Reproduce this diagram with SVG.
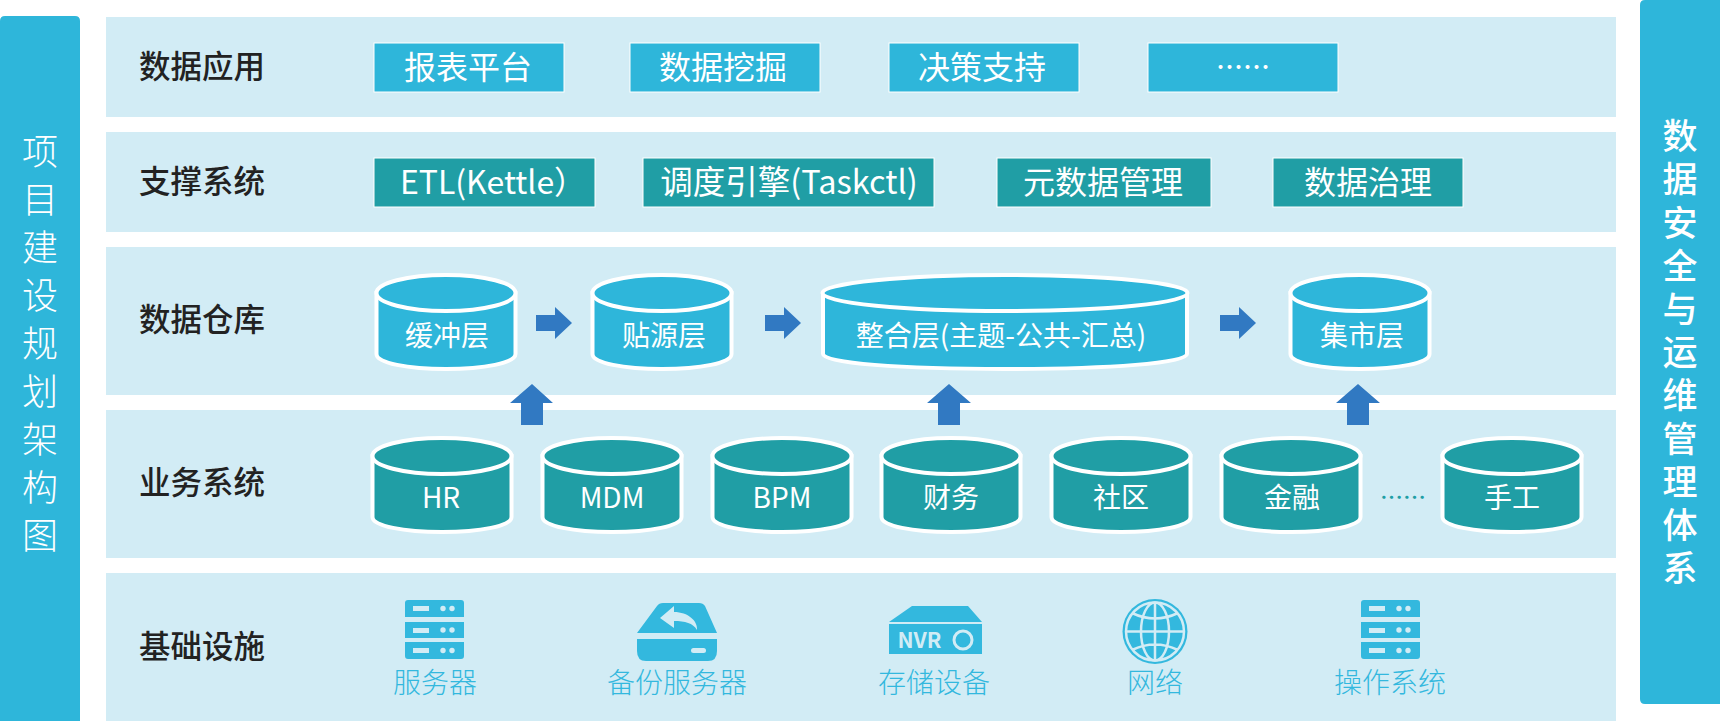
<svg xmlns="http://www.w3.org/2000/svg" width="1720" height="721" viewBox="0 0 1720 721">
<style>
text{font-family:"Noto Sans CJK SC","Noto Sans",sans-serif}
.panel{fill:#d2ecf5}
.bar{fill:#2eb6da}
.bart{fill:#fff;font-size:36px;text-anchor:middle;font-weight:300}
.barr{fill:#fff;font-size:35px;font-weight:500;writing-mode:vertical-rl;letter-spacing:8.200px}
.lbl{fill:#222;font-size:31.500px;font-weight:500;text-anchor:middle}
.b1{fill:#2eb6da;stroke:#fff;stroke-width:1}
.b2{fill:#209ea5;stroke:#fff;stroke-width:1}
.bt{fill:#fff;font-size:32px;text-anchor:middle}
.bl{fill:#fff;font-size:32.500px;text-anchor:middle}
.ct{fill:#fff;font-size:28px;text-anchor:middle}
.cb{fill:#2eb6da;stroke:#fff;stroke-width:4}
.cg{fill:#209ea5;stroke:#fff;stroke-width:4}
.arr{fill:#3179c2}
.ic{fill:#33b8de}
.il{fill:#33b8de;font-size:28px;text-anchor:middle;font-weight:300}
.ih{fill:#d2ecf5}
.gl{fill:none;stroke:#d2ecf5;stroke-width:2.500}
</style>
<defs>
<path id="arrR" d="M0 8H19V0L36 16 19 32V24H0Z"/>
<g id="srv">
<path class="ic" d="M3 0H56Q59 0 59 3V17H0V3Q0 0 3 0ZM0 22H59V38H0ZM0 42H59V56Q59 59 56 59H3Q0 59 0 56Z"/>
<g class="ih">
<rect x="8" y="6" width="16" height="5"/><circle cx="38" cy="8.500" r="2.700"/><circle cx="47" cy="8.500" r="2.700"/>
<rect x="8" y="28" width="16" height="5"/><circle cx="38" cy="30" r="2.700"/><circle cx="47" cy="30" r="2.700"/>
<rect x="8" y="48" width="16" height="5"/><circle cx="38" cy="50.500" r="2.700"/><circle cx="47" cy="50.500" r="2.700"/>
</g>
</g>
<g id="cylb"><path class="cb" d="M-69.500 0V61C-69.500 70 -38 76 0 76S69.500 70 69.500 61V0Z"/><ellipse class="cb" rx="69.500" ry="18"/></g>
<g id="cylg"><path class="cg" d="M-69.500 0V61C-69.500 70 -38 76 0 76S69.500 70 69.500 61V0Z"/><ellipse class="cg" rx="69.500" ry="18"/></g>
</defs>

<rect width="1720" height="721" fill="#fff"/>

<g id="bar-left">
<path class="bar" d="M5 16H75Q80 16 80 21V721H0V21Q0 16 5 16Z"/>
<text class="bart"><tspan x="40" y="165">项</tspan><tspan x="40" y="213">目</tspan><tspan x="40" y="261">建</tspan><tspan x="40" y="309">设</tspan><tspan x="40" y="357">规</tspan><tspan x="40" y="405">划</tspan><tspan x="40" y="453">架</tspan><tspan x="40" y="501">构</tspan><tspan x="40" y="549">图</tspan></text>
</g>
<g id="bar-right">
<path class="bar" d="M1640 5Q1640 0 1645 0H1720V704H1645Q1640 704 1640 699Z"/>
<text class="barr" x="1680" y="118.500">数据安全与运维管理体系</text>
</g>

<g id="layer-app">
<rect class="panel" x="106" y="17" width="1510" height="100"/>
<text class="lbl" x="202" y="78">数据应用</text>
<rect class="b1" x="374" y="43" width="190" height="49"/><text class="bt" x="468" y="79">报表平台</text>
<rect class="b1" x="630" y="43" width="190" height="49"/><text class="bt" x="723" y="79">数据挖掘</text>
<rect class="b1" x="889" y="43" width="190" height="49"/><text class="bt" x="982" y="79">决策支持</text>
<rect class="b1" x="1148" y="43" width="190" height="49"/><text x="1243" y="77" fill="#fff" font-size="27" text-anchor="middle" font-weight="500">……</text>
</g>
<g id="layer-support">
<rect class="panel" x="106" y="132" width="1510" height="100"/>
<text class="lbl" x="202" y="193">支撑系统</text>
<rect class="b2" x="374" y="158" width="221" height="49"/><text class="bt" x="493" y="194">ETL(Kettle）</text>
<rect class="b2" x="643" y="158" width="291" height="49"/><text class="bl" x="789" y="194">调度引擎(Taskctl)</text>
<rect class="b2" x="997" y="158" width="214" height="49"/><text class="bt" x="1103" y="194">元数据管理</text>
<rect class="b2" x="1273" y="158" width="190" height="49"/><text class="bt" x="1368" y="194">数据治理</text>
</g>
<g id="layer-dw">
<rect class="panel" x="106" y="247" width="1510" height="148"/>
<text class="lbl" x="202" y="331">数据仓库</text>
</g>
<g id="layer-biz">
<rect class="panel" x="106" y="410" width="1510" height="148"/>
<text class="lbl" x="202" y="494">业务系统</text>
<text x="1403" y="506" fill="#209ea5" font-size="23" font-weight="500" text-anchor="middle">……</text>
</g>
<g id="layer-infra">
<rect class="panel" x="106" y="573" width="1510" height="148"/>
<text class="lbl" x="202" y="658">基础设施</text>
</g>

<g id="cyl-buffer"><use href="#cylb" x="446" y="293"/><text class="ct" x="447" y="346">缓冲层</text></g>
<g id="cyl-ods"><use href="#cylb" x="662" y="293"/><text class="ct" x="664" y="346">贴源层</text></g>
<g id="cyl-int"><path class="cb" d="M823 293V354C823 363 900 369 1005 369S1187 363 1187 354V293Z"/><ellipse class="cb" cx="1005" cy="293" rx="182.500" ry="18"/><text class="ct" x="1001" y="346">整合层(主题-公共-汇总)</text></g>
<g id="cyl-mart"><use href="#cylb" x="1360" y="293"/><text class="ct" x="1362" y="346">集市层</text></g>

<g id="connectors" class="arr">
<use href="#arrR" x="536" y="307"/>
<use href="#arrR" x="765" y="307"/>
<use href="#arrR" x="1220" y="307"/>
<path d="M532 384L553 403H543V425H521V403H510Z"/>
<path d="M949 384L971 403H960V425H938V403H927Z"/>
<path d="M1358 384L1380 403H1369V425H1347V403H1336Z"/>
</g>

<g id="sys-hr"><use href="#cylg" x="442" y="456"/><text class="ct" x="441" y="508">HR</text></g>
<g id="sys-mdm"><use href="#cylg" x="612" y="456"/><text class="ct" x="612" y="508">MDM</text></g>
<g id="sys-bpm"><use href="#cylg" x="782" y="456"/><text class="ct" x="782" y="508">BPM</text></g>
<g id="sys-fin"><use href="#cylg" x="951" y="456"/><text class="ct" x="951" y="508">财务</text></g>
<g id="sys-comm"><use href="#cylg" x="1121" y="456"/><text class="ct" x="1121" y="508">社区</text></g>
<g id="sys-bank"><use href="#cylg" x="1291" y="456"/><text class="ct" x="1292" y="508">金融</text></g>
<g id="sys-manual"><use href="#cylg" x="1512" y="456"/><text class="ct" x="1512" y="508">手工</text></g>

<g id="infra-server"><use href="#srv" x="405" y="600"/><text class="il" x="435" y="693">服务器</text></g>
<g id="infra-backup">
<path class="ic" d="M657 606Q659 603 663 603H699Q703 603 705 606L717 633H637Z"/>
<path class="ic" d="M637 639H717V651Q717 661 708 661H646Q637 661 637 651Z"/>
<path class="ih" d="M660 618L674 606V612C688 612 698 621 697 630C693 623 685 621 674 621V628Z"/>
<rect class="ih" x="691" y="648" width="15" height="5" rx="2.500"/>
<text class="il" x="677" y="693">备份服务器</text>
</g>
<g id="infra-nvr">
<path class="ic" d="M912 606H968L982 622H889Z"/>
<rect class="ic" x="889" y="624" width="93" height="30"/>
<text x="919.500" y="648" fill="#d2ecf5" font-size="21.500" font-weight="700" text-anchor="middle">NVR</text>
<circle cx="963" cy="640" r="9" fill="none" stroke="#d2ecf5" stroke-width="3"/>
<text class="il" x="934" y="693">存储设备</text>
</g>
<g id="infra-net">
<circle class="ic" cx="1155" cy="631.500" r="32.500"/>
<g class="gl">
<circle cx="1155" cy="631.500" r="29"/>
<ellipse cx="1155" cy="631.500" rx="14" ry="29"/>
<path d="M1155 603V660M1126 631.500H1184M1132 613Q1155 624 1178 613M1132 650Q1155 639 1178 650"/>
</g>
<text class="il" x="1155" y="693">网络</text>
</g>
<g id="infra-os"><use href="#srv" x="1361" y="600"/><text class="il" x="1390" y="693">操作系统</text></g>
</svg>
